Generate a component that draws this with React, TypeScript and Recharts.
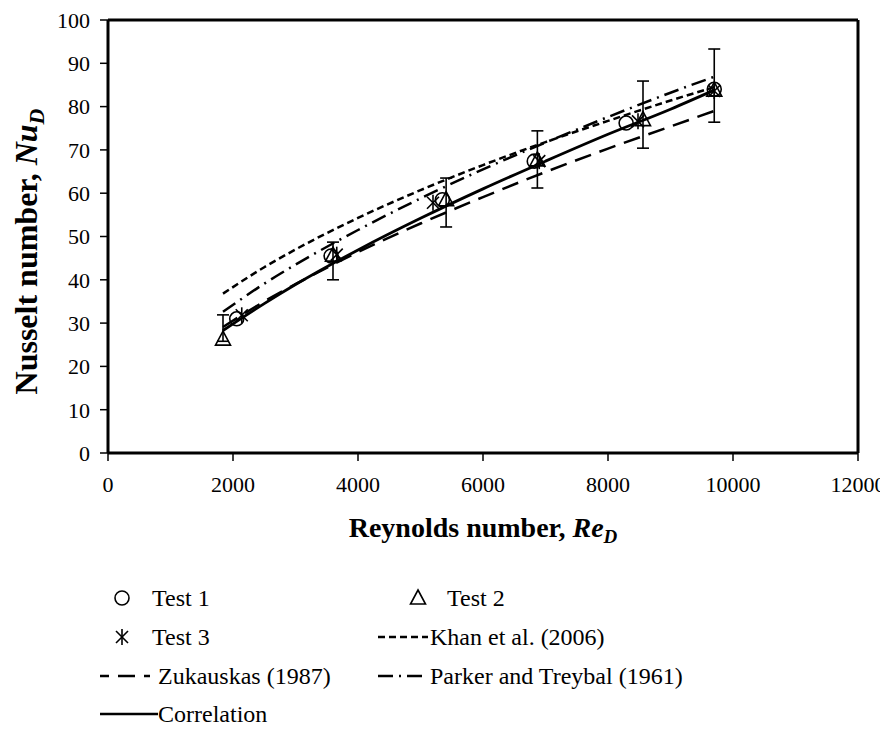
import React from "react";
import {
  ComposedChart,
  Line,
  Scatter,
  XAxis,
  YAxis,
  ErrorBar,
  ReferenceLine,
  Label,
} from "recharts";

// ---- Data ----
const xTicks = [0, 2000, 4000, 6000, 8000, 10000, 12000];
const yTicks = [0, 10, 20, 30, 40, 50, 60, 70, 80, 90, 100];

const test1Re = [2060, 3570, 5350, 6820, 8290, 9700];
const test1Nu = [31.0, 45.5, 58.5, 67.4, 76.2, 84.0];

const test2Re = [1840, 3600, 5410, 6870, 8560, 9700];
const test2Nu = [26.3, 45.7, 58.5, 67.7, 77.0, 83.8];
const test2ErrLow = [0.5, 5.7, 6.3, 6.5, 6.6, 7.4];
const test2ErrHigh = [5.6, 3.0, 5.0, 6.7, 8.9, 9.5];

const test3Re = [2140, 3660, 5200, 6900, 8480, 9700];
const test3Nu = [31.8, 45.8, 57.8, 67.4, 76.6, 83.6];

const curveRe = [1840, 2500, 3000, 4000, 5000, 6000, 7000, 8000, 9000, 9700];
const khanNu = [36.8, 42.9, 47.0, 54.3, 60.7, 66.5, 71.8, 76.7, 81.4, 84.5];
const zukauskasNu = [29.1, 35.0, 39.0, 46.4, 53.0, 59.1, 64.9, 70.3, 75.4, 79.0];
const parkerNu = [32.6, 39.1, 43.5, 51.5, 58.8, 65.5, 71.7, 77.6, 83.2, 86.9];
const correlationNu = [28.3, 34.5, 38.9, 46.9, 54.2, 61.0, 67.4, 73.6, 79.4, 83.8];

const legendNames = {
  test1: "Test 1",
  test2: "Test 2",
  test3: "Test 3",
  khan: "Khan et al. (2006)",
  zukauskas: "Zukauskas (1987)",
  parker: "Parker and Treybal (1961)",
  correlation: "Correlation",
};

// ---- Derived tables ----
const test1Data = test1Re.map((re, i) => ({ re, nu: test1Nu[i] }));
const test2Data = test2Re.map((re, i) => ({
  re,
  nu: test2Nu[i],
  err: [test2ErrLow[i], test2ErrHigh[i]],
}));
const test3Data = test3Re.map((re, i) => ({ re, nu: test3Nu[i] }));
const curve = (vals: number[]) => curveRe.map((re, i) => ({ re, nu: vals[i] }));
const khanData = curve(khanNu);
const zukauskasData = curve(zukauskasNu);
const parkerData = curve(parkerNu);
const correlationData = curve(correlationNu);

const FONT = "'Liberation Serif', 'Times New Roman', serif";

const DASH_KHAN = "7 4";
const DASH_ZUK = "17 9";
const DASH_PARKER = "15 6 2 6";

const CircleShape = (p: any) => (
  <circle cx={p.cx} cy={p.cy} r={7} fill="none" stroke="#000" strokeWidth={1.6} />
);
const TriangleShape = (p: any) => (
  <path
    d={`M${p.cx},${p.cy - 8} L${p.cx + 7.5},${p.cy + 6} L${p.cx - 7.5},${p.cy + 6} Z`}
    fill="none"
    stroke="#000"
    strokeWidth={1.6}
  />
);
const StarShape = (p: any) => (
  <g stroke="#000" strokeWidth={1.6}>
    <line x1={p.cx - 6} y1={p.cy - 6} x2={p.cx + 6} y2={p.cy + 6} />
    <line x1={p.cx + 6} y1={p.cy - 6} x2={p.cx - 6} y2={p.cy + 6} />
    <line x1={p.cx} y1={p.cy - 8} x2={p.cx} y2={p.cy + 8} />
  </g>
);

const XTitle = (props: any) => {
  const vb = props.viewBox || {};
  const cx = vb.x + vb.width / 2;
  const y = vb.y + 84;
  return (
    <text x={cx} y={y} textAnchor="middle" fontFamily={FONT} fontSize={28} fontWeight="bold" fill="#000">
      <tspan>Reynolds number, </tspan>
      <tspan fontStyle="italic">Re</tspan>
      <tspan fontStyle="italic" fontSize={19} dy={6}>D</tspan>
    </text>
  );
};

const YTitle = (props: any) => {
  const vb = props.viewBox || {};
  const cx = 29;
  const cy = vb.y + vb.height / 2 + 15;
  return (
    <text
      x={cx}
      y={cy}
      transform={`rotate(-90 ${cx} ${cy})`}
      textAnchor="middle"
      fontFamily={FONT}
      fontSize={32}
      fontWeight="bold"
      fill="#000"
    >
      <tspan>Nusselt number, </tspan>
      <tspan fontStyle="italic">Nu</tspan>
      <tspan fontStyle="italic" fontSize={22} dy={7}>D</tspan>
    </text>
  );
};

const legendFont = { fontFamily: FONT, fontSize: 24, fill: "#000" };

const LegendBox = () => {
  const rows = [590, 629, 668, 706];
  const t = (y: number) => y + 8;
  return (
    <svg width={880} height={736} style={{ position: "absolute", left: 0, top: 0, pointerEvents: "none" }}>
      <CircleShape cx={114} cy={rows[0]} />
      <text x={144} y={t(rows[0])} {...legendFont}>{legendNames.test1}</text>
      <TriangleShape cx={410} cy={rows[0]} />
      <text x={439} y={t(rows[0])} {...legendFont}>{legendNames.test2}</text>

      <StarShape cx={114} cy={rows[1]} />
      <text x={144} y={t(rows[1])} {...legendFont}>{legendNames.test3}</text>
      <line x1={370} y1={rows[1]} x2={420} y2={rows[1]} stroke="#000" strokeWidth={2.5} strokeDasharray={DASH_KHAN} />
      <text x={422} y={t(rows[1])} {...legendFont}>{legendNames.khan}</text>

      <line x1={92} y1={rows[2]} x2={142} y2={rows[2]} stroke="#000" strokeWidth={2.5} strokeDasharray={DASH_ZUK} strokeDashoffset={8} />
      <text x={150} y={t(rows[2])} {...legendFont}>{legendNames.zukauskas}</text>
      <line x1={370} y1={rows[2]} x2={420} y2={rows[2]} stroke="#000" strokeWidth={2.5} strokeDasharray={DASH_PARKER} />
      <text x={422} y={t(rows[2])} {...legendFont}>{legendNames.parker}</text>

      <line x1={92} y1={rows[3]} x2={150} y2={rows[3]} stroke="#000" strokeWidth={2.5} />
      <text x={150} y={t(rows[3])} {...legendFont}>{legendNames.correlation}</text>
    </svg>
  );
};

export default function App() {
  const tickStyle = { fontFamily: FONT, fontSize: 22, fill: "#000" };
  return (
    <div style={{ position: "relative", width: 880, height: 736 }}>
      <ComposedChart
        width={880}
        height={736}
        margin={{ top: 12, right: 30, left: 0, bottom: 211 }}
      >
        <XAxis
          type="number"
          dataKey="re"
          domain={[0, 12000]}
          ticks={xTicks}
          interval={0}
          height={80}
          tick={tickStyle}
          tickSize={8}
          tickMargin={15}
          axisLine={{ stroke: "#000", strokeWidth: 3 }}
          tickLine={{ stroke: "#000", strokeWidth: 1.5 }}
        >
          <Label content={XTitle} />
        </XAxis>
        <YAxis
          type="number"
          dataKey="nu"
          domain={[0, 100]}
          ticks={yTicks}
          interval={0}
          width={100}
          tick={tickStyle}
          tickSize={8}
          tickMargin={10}
          axisLine={{ stroke: "#000", strokeWidth: 3 }}
          tickLine={{ stroke: "#000", strokeWidth: 1.5 }}
        >
          <Label content={YTitle} />
        </YAxis>
        <ReferenceLine y={100} stroke="#000" strokeWidth={3} />
        <ReferenceLine x={12000} stroke="#000" strokeWidth={3} />

        <Line data={khanData} dataKey="nu" type="monotone" stroke="#000" strokeWidth={2.5} strokeDasharray={DASH_KHAN} dot={false} isAnimationActive={false} name={legendNames.khan} />
        <Line data={parkerData} dataKey="nu" type="monotone" stroke="#000" strokeWidth={2.5} strokeDasharray={DASH_PARKER} dot={false} isAnimationActive={false} name={legendNames.parker} />
        <Line data={zukauskasData} dataKey="nu" type="monotone" stroke="#000" strokeWidth={2.5} strokeDasharray={DASH_ZUK} dot={false} isAnimationActive={false} name={legendNames.zukauskas} />
        <Line data={correlationData} dataKey="nu" type="monotone" stroke="#000" strokeWidth={2.8} dot={false} isAnimationActive={false} name={legendNames.correlation} />

        <Scatter data={test1Data} dataKey="nu" shape={CircleShape} isAnimationActive={false} name={legendNames.test1} />
        <Scatter data={test2Data} dataKey="nu" shape={TriangleShape} isAnimationActive={false} name={legendNames.test2}>
          <ErrorBar dataKey="err" direction="y" width={6} stroke="#000" strokeWidth={1.6} isAnimationActive={false} />
        </Scatter>
        <Scatter data={test3Data} dataKey="nu" shape={StarShape} isAnimationActive={false} name={legendNames.test3} />
      </ComposedChart>
      <LegendBox />
    </div>
  );
}
